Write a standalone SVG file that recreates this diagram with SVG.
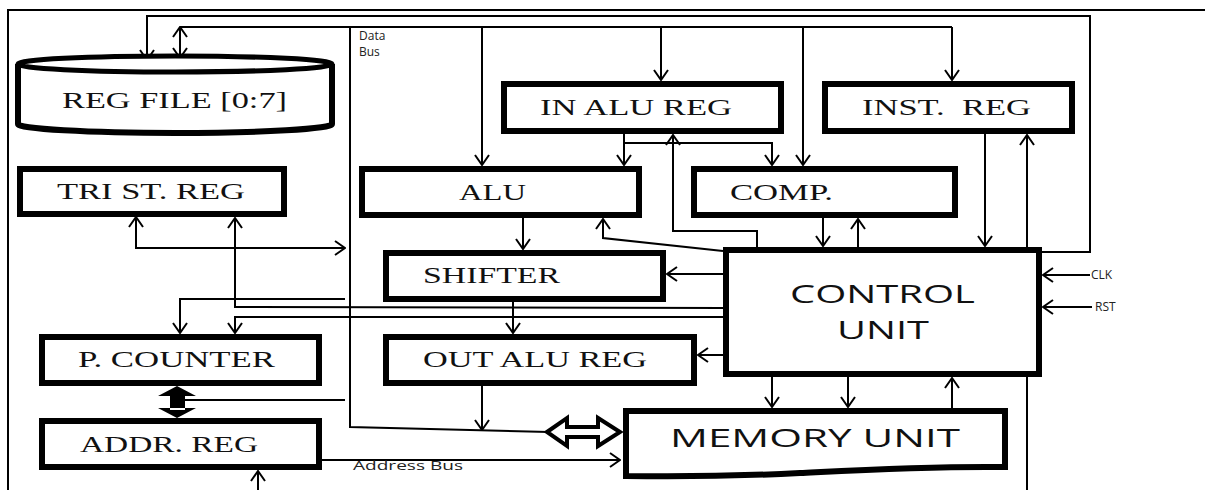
<svg xmlns="http://www.w3.org/2000/svg" width="1205" height="490" viewBox="0 0 1205 490">
<style>
.box{fill:#fff;stroke:#000;stroke-width:6}
.ln{fill:none;stroke:#000;stroke-width:2}
.ar{marker-end:url(#a)}
.t{font-family:"Liberation Serif","Times New Roman",serif;font-size:23px;fill:#111;text-anchor:start}
.s{font-family:"Open Sans","DejaVu Sans",sans-serif;font-size:25px;fill:#111}
.sm{font-family:"Open Sans","DejaVu Sans",sans-serif;font-size:12px;fill:#222}
</style>
<defs>
<marker id="a" viewBox="0 0 12 16" refX="11" refY="8" markerWidth="12" markerHeight="16" markerUnits="userSpaceOnUse" orient="auto-start-reverse">
<path d="M1,1 L11,8 L1,15" fill="none" stroke="#000" stroke-width="2"/>
</marker>
</defs>
<g id="frame">
<path class="ln" d="M8,490 V10 H1205"/>
</g>
<g id="connectors">
<!-- outer loop control -> reg file -->
<path class="ln ar" d="M1042,252 H1090 V16 H147 V60"/>
<!-- data bus -->
<path class="ln" d="M180,27 H952"/>
<path class="ln ar" d="M180,27 V58" style="marker-start:url(#a)"/>
<path class="ln" d="M350,27 V427 L549,432"/>
<path class="ln ar" d="M482,27 V165"/>
<path class="ln ar" d="M661,27 V80"/>
<path class="ln ar" d="M803,27 V165"/>
<path class="ln ar" d="M952,27 V80"/>
<!-- IN ALU REG outputs -->
<path class="ln ar" d="M624,134 V165"/>
<path class="ln ar" d="M624,143 H772 V165"/>
<!-- control -> IN ALU REG -->
<path class="ln ar" d="M757,247 V231 H673 V135"/>
<!-- control -> ALU -->
<path class="ln ar" d="M723,251 L603,238 V219"/>
<!-- ALU -> shifter -->
<path class="ln ar" d="M523,218 V249"/>
<!-- shifter -> out alu -->
<path class="ln ar" d="M513,302 V333"/>
<!-- control -> shifter / out alu -->
<path class="ln ar" d="M723,274 H667"/>
<path class="ln ar" d="M723,355 H698"/>
<!-- out alu down -->
<path class="ln ar" d="M482,386 V430"/>
<!-- comp <-> control -->
<path class="ln ar" d="M823,218 V246"/>
<path class="ln ar" d="M858,247 V219"/>
<!-- inst reg <-> control -->
<path class="ln ar" d="M985,134 V246"/>
<path class="ln ar" d="M1027,247 V135"/>
<path class="ln" d="M1027,377 V490"/>
<!-- clk rst -->
<path class="ln ar" d="M1090,275 H1043"/>
<path class="ln ar" d="M1092,307 H1043"/>
<!-- control -> memory -->
<path class="ln ar" d="M772,377 V407"/>
<path class="ln ar" d="M848,377 V407"/>
<path class="ln ar" d="M952,408 V378"/>
<!-- tri st reg -->
<path class="ln ar" d="M136,217 V248 H345" style="marker-start:url(#a)"/>
<path class="ln ar" d="M723,308 L235,307 V218"/>
<path class="ln ar" d="M723,317 H235 V333"/>
<path class="ln ar" d="M345,299 H180 V333"/>
<!-- pc/addr to data bus -->
<path class="ln" d="M183,400 H345"/>
<!-- address bus -->
<path class="ln ar" d="M322,460 H620"/>
<!-- bottom input -->
<path class="ln ar" d="M258,490 V471"/>
<!-- thick PC <-> ADDR -->
<path d="M170,394 H185 V410 H170 Z M158,396 L177,386 L196,396 Z M158,408 L177,418 L196,408 Z" fill="#000"/>
<!-- hollow double arrow -->
<polygon points="547,432 567,418 567,427 598,427 598,418 620,432 598,446 598,437 567,437 567,446" fill="#fff" stroke="#000" stroke-width="4" stroke-linejoin="miter"/>
</g>
<g id="regfile">
<path d="M18,64 V124 A157,9 0 0 0 332,124 V64" fill="#fff" stroke="#000" stroke-width="6"/>
<ellipse cx="175" cy="64" rx="157" ry="8" fill="#fff" stroke="#000" stroke-width="5"/>
<text class="t" x="62" y="108" textLength="225" lengthAdjust="spacingAndGlyphs">REG FILE [0:7]</text>
</g>
<g id="trist">
<rect class="box" x="20" y="169" width="264" height="45"/>
<text class="t" x="57" y="199" textLength="188" lengthAdjust="spacingAndGlyphs">TRI ST. REG</text>
</g>
<g id="pc">
<rect class="box" x="42" y="337" width="277" height="46"/>
<text class="t" x="78" y="367" textLength="197" lengthAdjust="spacingAndGlyphs">P. COUNTER</text>
</g>
<g id="addr">
<rect class="box" x="42" y="421" width="277" height="46"/>
<text class="t" x="80" y="452" textLength="178" lengthAdjust="spacingAndGlyphs">ADDR. REG</text>
</g>
<g id="inalu">
<rect class="box" x="504" y="84" width="277" height="47"/>
<text class="t" x="540" y="115" textLength="192" lengthAdjust="spacingAndGlyphs">IN ALU REG</text>
</g>
<g id="alu">
<rect class="box" x="362" y="169" width="277" height="46"/>
<text class="t" x="459" y="200" textLength="67" lengthAdjust="spacingAndGlyphs">ALU</text>
</g>
<g id="comp">
<rect class="box" x="694" y="169" width="261" height="46"/>
<text class="t" x="730" y="200" textLength="103" lengthAdjust="spacingAndGlyphs">COMP.</text>
</g>
<g id="inst">
<rect class="box" x="825" y="84" width="247" height="47"/>
<text class="t" x="862" y="115" textLength="169" lengthAdjust="spacingAndGlyphs" xml:space="preserve">INST.  REG</text>
</g>
<g id="shifter">
<rect class="box" x="386" y="253" width="277" height="46"/>
<text class="t" x="423" y="283" textLength="137" lengthAdjust="spacingAndGlyphs">SHIFTER</text>
</g>
<g id="outalu">
<rect class="box" x="386" y="337" width="308" height="46"/>
<text class="t" x="423" y="367" textLength="224" lengthAdjust="spacingAndGlyphs">OUT ALU REG</text>
</g>
<g id="control">
<rect class="box" x="726" y="250" width="313" height="124" stroke-width="7"/>
<text class="s" x="790" y="303" textLength="185" lengthAdjust="spacingAndGlyphs">CONTROL</text>
<text class="s" x="837" y="339" textLength="92" lengthAdjust="spacingAndGlyphs">UNIT</text>
</g>
<g id="memory">
<path d="M626,411 H1005 V467 C930,466 860,470 800,473 S690,477 626,476 Z" fill="#fff" stroke="#000" stroke-width="6"/>
<text class="s" x="670" y="447" textLength="290" lengthAdjust="spacingAndGlyphs">MEMORY UNIT</text>
</g>
<g id="labels">
<text class="sm" x="359" y="40">Data</text>
<text class="sm" x="359" y="56">Bus</text>
<text class="sm" x="353" y="470" textLength="110" lengthAdjust="spacingAndGlyphs">Address Bus</text>
<text class="sm" x="1091" y="279">CLK</text>
<text class="sm" x="1095" y="311">RST</text>
</g>
</svg>
